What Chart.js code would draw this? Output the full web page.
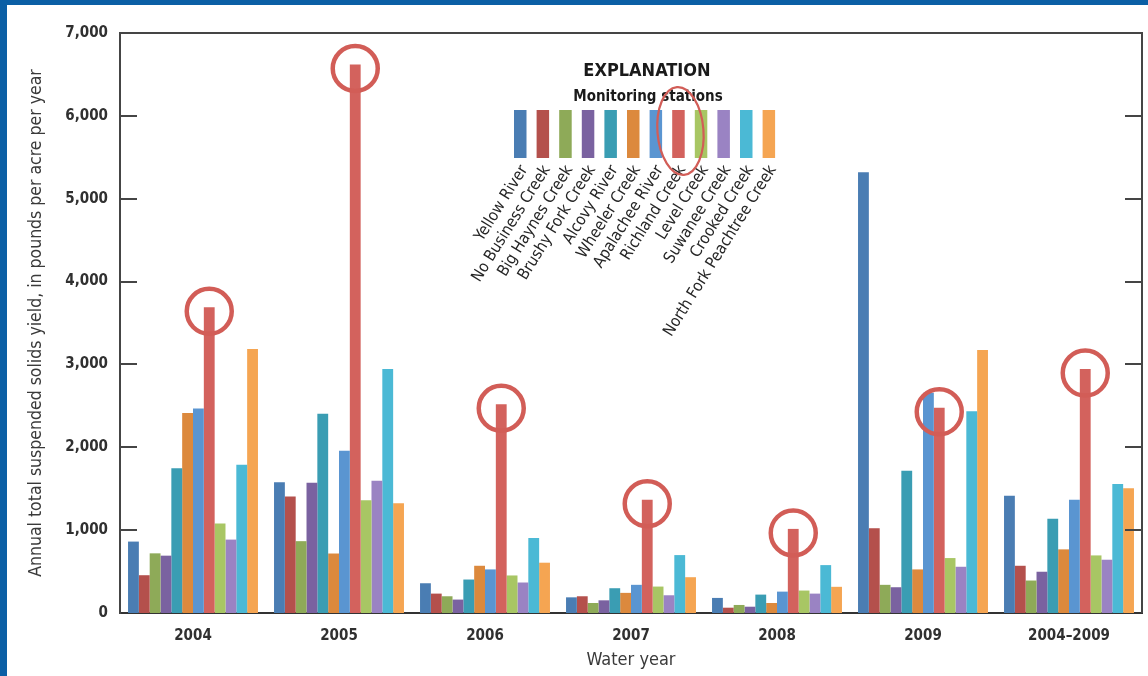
<!DOCTYPE html>
<html>
<head>
<meta charset="utf-8">
<title>Annual total suspended solids yield</title>
<script src="https://cdn.jsdelivr.net/npm/chart.js@4/dist/chart.umd.min.js"></script>
<style>
  html, body { margin: 0; padding: 0; background: #ffffff; }
  canvas { display: block; }
</style>
</head>
<body>
<canvas id="tss" width="1148" height="676"></canvas>
<script>
// Water years on the category axis
const waterYears = ['2004', '2005', '2006', '2007', '2008', '2009', '2004\u20132009'];

// Monitoring stations, in legend order
const stationNames = [
  'Yellow River', 'No Business Creek', 'Big Haynes Creek', 'Brushy Fork Creek',
  'Alcovy River', 'Wheeler Creek', 'Apalachee River', 'Richland Creek',
  'Level Creek', 'Suwanee Creek', 'Crooked Creek', 'North Fork Peachtree Creek'
];

// Annual total suspended solids yield, pounds per acre per year
const yellowRiver             = [862, 1578, 359, 189, 182, 5319, 1415];
const noBusinessCreek         = [456, 1407, 234, 202, 64, 1023, 570];
const bigHaynesCreek          = [720, 867, 202, 121, 97, 340, 392];
const brushyForkCreek         = [692, 1573, 162, 153, 76, 311, 498];
const alcovyRiver             = [1748, 2404, 404, 299, 222, 1718, 1136];
const wheelerCreek            = [2415, 718, 570, 243, 121, 526, 768];
const apalacheeRiver          = [2467, 1959, 526, 340, 258, 2658, 1367];
const richlandCreek           = [3689, 6620, 2520, 1367, 1015, 2476, 2944];
const levelCreek              = [1080, 1362, 453, 319, 271, 663, 695];
const suwaneeCreek            = [886, 1595, 368, 214, 234, 558, 643];
const crookedCreek            = [1788, 2944, 905, 699, 578, 2435, 1557];
const northForkPeachtreeCreek = [3187, 1325, 607, 432, 316, 3175, 1505];

// Y-axis tick values
const yTicks = [0, 1000, 2000, 3000, 4000, 5000, 6000, 7000];

const stationValues = [
  yellowRiver, noBusinessCreek, bigHaynesCreek, brushyForkCreek,
  alcovyRiver, wheelerCreek, apalacheeRiver, richlandCreek,
  levelCreek, suwaneeCreek, crookedCreek, northForkPeachtreeCreek
];

const stationColors = [
  '#4a7db3', '#b4504c', '#8eaa58', '#7a62a0',
  '#3a9db3', '#dc893d', '#5a95d1', '#d3625d',
  '#a8c664', '#9a83c3', '#4bb9d5', '#f5a552'
];

const FONT = "'Liberation Sans Narrow', 'DejaVu Sans Condensed', 'Roboto Condensed', 'Arial Narrow', sans-serif";
const FRAME_BLUE = '#0b5fa5';
const AXIS_COLOR = '#454545';
const HIGHLIGHT = '#d25d57';
const HIGHLIGHT_INDEX = stationNames.indexOf('Richland Creek');

// Blue frame, box border, inward tick marks
const framePlugin = {
  id: 'frame',
  beforeDraw(chart) {
    const ctx = chart.ctx;
    ctx.save();
    ctx.fillStyle = '#ffffff';
    ctx.fillRect(0, 0, chart.width, chart.height);
    ctx.fillStyle = FRAME_BLUE;
    ctx.fillRect(0, 0, chart.width, 5);
    ctx.fillRect(0, 0, 7, chart.height);
    ctx.restore();
  },
  afterDraw(chart) {
    const ctx = chart.ctx;
    const a = chart.chartArea;
    const y = chart.scales.y;
    ctx.save();
    ctx.strokeStyle = AXIS_COLOR;
    ctx.lineWidth = 2;
    ctx.beginPath();
    ctx.moveTo(a.left - 1, a.top);
    ctx.lineTo(a.right, a.top);
    ctx.lineTo(a.right, a.bottom);
    ctx.stroke();
    yTicks.forEach(v => {
      if (v === 0 || v === 7000) return;
      const py = Math.round(y.getPixelForValue(v));
      ctx.beginPath();
      ctx.moveTo(a.left, py);
      ctx.lineTo(a.left + 17, py);
      ctx.moveTo(a.right, py);
      ctx.lineTo(a.right - 17, py);
      ctx.stroke();
    });
    ctx.restore();
  }
};

// Circles around the Richland Creek bars
const highlightPlugin = {
  id: 'highlight',
  afterDatasetsDraw(chart) {
    const ctx = chart.ctx;
    const meta = chart.getDatasetMeta(HIGHLIGHT_INDEX);
    ctx.save();
    ctx.strokeStyle = HIGHLIGHT;
    ctx.lineWidth = 4.5;
    meta.data.forEach(bar => {
      ctx.beginPath();
      ctx.arc(bar.x, bar.y + 4, 22.5, 0, Math.PI * 2);
      ctx.stroke();
    });
    ctx.restore();
  }
};

// Explanation block with vertical swatches and slanted names
const explanationPlugin = {
  id: 'explanation',
  afterDraw(chart) {
    const ctx = chart.ctx;
    const sets = chart.data.datasets;
    const x0 = 514, step = 22.6, sw = 12.5, top = 110, h = 48;
    ctx.save();
    ctx.fillStyle = '#1a1a1a';
    ctx.textAlign = 'center';
    ctx.textBaseline = 'middle';
    ctx.font = 'bold 18px ' + FONT;
    ctx.fillText('EXPLANATION', 647, 71);
    ctx.font = 'bold 15px ' + FONT;
    ctx.fillText('Monitoring stations', 648, 97);

    sets.forEach((ds, i) => {
      const x = x0 + i * step;
      ctx.fillStyle = ds.backgroundColor;
      ctx.fillRect(x, top, sw, h);
    });

    ctx.fillStyle = '#262626';
    ctx.font = '16px ' + FONT;
    ctx.textAlign = 'right';
    ctx.textBaseline = 'middle';
    sets.forEach((ds, i) => {
      const cx = x0 + i * step + sw / 2;
      ctx.save();
      ctx.translate(cx + 4, 167);
      ctx.rotate(-58 * Math.PI / 180);
      ctx.fillText(ds.label, 0, 0);
      ctx.restore();
    });

    // ring around the Richland Creek swatch
    const rx = x0 + HIGHLIGHT_INDEX * step + sw / 2 + 2;
    ctx.strokeStyle = HIGHLIGHT;
    ctx.lineWidth = 2.2;
    ctx.beginPath();
    ctx.ellipse(rx, 131, 23, 44, -0.08, 0, Math.PI * 2);
    ctx.stroke();
    ctx.restore();
  }
};

const datasets = stationNames.map((name, i) => ({
  label: name,
  data: stationValues[i],
  backgroundColor: stationColors[i],
  borderWidth: 0,
  categoryPercentage: 0.89,
  barPercentage: 1.0
}));

new Chart(document.getElementById('tss'), {
  type: 'bar',
  data: { labels: waterYears, datasets },
  options: {
    responsive: false,
    animation: false,
    devicePixelRatio: 1,
    layout: { padding: { top: 33, right: 6, left: 0, bottom: 0 } },
    plugins: {
      legend: { display: false },
      tooltip: { enabled: false }
    },
    scales: {
      x: {
        grid: { display: false, drawTicks: false },
        border: { display: true, color: '#333333', width: 2 },
        ticks: {
          padding: 14,
          maxRotation: 0,
          color: '#303030',
          font: { family: FONT, size: 15, weight: 'bold' }
        },
        title: {
          display: true,
          text: 'Water year',
          color: '#3a3a3a',
          font: { family: FONT, size: 18 },
          padding: { top: 0, bottom: 5 }
        },
        afterFit(scale) { scale.height = 63; }
      },
      y: {
        min: 0,
        max: 7000,
        grid: { display: false, drawTicks: false },
        border: { display: true, color: AXIS_COLOR, width: 2 },
        ticks: {
          stepSize: 1000,
          padding: 12,
          color: '#303030',
          font: { family: FONT, size: 15, weight: 'bold' },
          callback: v => v.toLocaleString('en-US')
        },
        afterBuildTicks(scale) {
          scale.ticks = yTicks.map(v => ({ value: v }));
        },
        title: {
          display: true,
          text: 'Annual total suspended solids yield, in pounds per acre per year',
          color: '#3a3a3a',
          font: { family: FONT, size: 17.5 },
          padding: { top: 26, bottom: 0 }
        },
        afterFit(scale) { scale.width = 120; }
      }
    }
  },
  plugins: [framePlugin, highlightPlugin, explanationPlugin]
});
</script>
</body>
</html>
